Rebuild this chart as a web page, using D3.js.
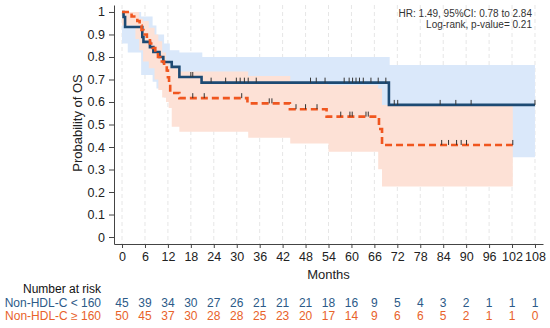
<!DOCTYPE html>
<html>
<head>
<meta charset="utf-8">
<script src="https://cdn.jsdelivr.net/npm/d3@7"></script>
<style>
	body { margin: 0; background: #fff; }
	svg text { font-family: "Liberation Sans", Arial, sans-serif; }
</style>
</head>
<body>
<script>
(function (d3) {
	'use strict';

	var width = 550,
	    height = 328;

	// month ticks + numbers at risk
	var months = d3.range(0, 109, 6);
	var riskLow = [45, 39, 34, 30, 27, 26, 21, 21, 21, 18, 16, 9, 5, 4, 3, 2, 1, 1, 1];
	var riskHigh = [50, 45, 37, 30, 28, 28, 25, 23, 20, 17, 14, 9, 6, 6, 5, 2, 1, 1, 0];
	var yTicks = d3.range(0, 11).map(function (i) { return i / 10; });

	// KM steps [month, survival]  (Non-HDL-C < 160)
	var kmLow = [[0, 1], [0.4, 0.978], [0.8, 0.933], [5.3, 0.889], [5.6, 0.867], [7.3, 0.844],
		[8.2, 0.822], [9.8, 0.8], [10.8, 0.778], [13, 0.756], [15, 0.711], [20.8, 0.686],
		[69.8, 0.587], [108, 0.587]];
	// Non-HDL-C >= 160
	var kmHigh = [[0, 1], [2.5, 0.98], [4, 0.96], [4.6, 0.94], [5.1, 0.92], [5.6, 0.9], [6.5, 0.88],
		[7.3, 0.86], [8, 0.84], [8.7, 0.82], [9.4, 0.8], [10, 0.78], [11, 0.76], [11.7, 0.74],
		[12, 0.71], [12.3, 0.68], [12.6, 0.64], [15, 0.617], [32.8, 0.594], [43.9, 0.568],
		[53.5, 0.535], [67.2, 0.48], [68, 0.409], [102.2, 0.409]];

	// 95% CI [month, lower, upper]
	var ciLow = [[0, 0.86, 1], [1.5, 0.82, 1], [5, 0.72, 0.98], [8, 0.69, 0.94], [9, 0.66, 0.9],
		[11, 0.62, 0.86], [12.5, 0.6, 0.83], [15, 0.56, 0.82], [21, 0.53, 0.8],
		[70, 0.354, 0.764], [108, 0.354, 0.764]];
	var ciHigh = [[0, 0.94, 1], [3.5, 0.88, 1], [4.5, 0.83, 0.97], [5.5, 0.78, 0.96], [7, 0.75, 0.93],
		[8.5, 0.7, 0.9], [9.5, 0.653, 0.87], [10.5, 0.62, 0.82], [11.5, 0.6, 0.78],
		[12.2, 0.573, 0.76], [13, 0.49, 0.75], [15, 0.468, 0.735], [33, 0.441, 0.716],
		[44, 0.416, 0.69], [54, 0.379, 0.676], [67, 0.301, 0.66], [68, 0.224, 0.587],
		[102.2, 0.224, 0.587]];

	// censored times
	var censLow = [18, 18.5, 23.3, 27.1, 29.9, 30.9, 32, 33, 35.1, 49.3, 50.8, 53.1, 58.1, 59.4,
		60.3, 61.2, 62.1, 63.1, 65.1, 67, 69, 71.2, 72.1, 83.2, 87.3, 91.3, 108];
	var censHigh = [18.5, 21.5, 31.3, 38.5, 39.2, 45.5, 48, 51, 57.2, 59.6, 60.2, 63.8, 64.4,
		83.6, 85.4, 87.5, 88.7, 90.1, 102.2];

	var blue = '#1d4a73',
	    orange = '#f0561f';

	var svg = d3.select('body').append('svg')
		.attr('width', width)
		.attr('height', height);

	var x = d3.scaleLinear().domain([-2.1, 110.1]).range([114, 543]);
	var y = d3.scaleLinear().domain([-0.031, 1.031]).range([244, 5]);

	// dashed vertical grid
	svg.append('g').selectAll('line').data(months).enter()
		.append('line')
			.attr('x1', function (d) { return x(d); })
			.attr('x2', function (d) { return x(d); })
			.attr('y1', 5)
			.attr('y2', 244)
			.attr('stroke', '#e6e6e6')
			.attr('stroke-dasharray', '4,3');

	var band = d3.area()
		.curve(d3.curveStepAfter)
		.x(function (d) { return x(d[0]); })
		.y0(function (d) { return y(d[1]); })
		.y1(function (d) { return y(d[2]); });

	svg.append('path').attr('d', band(ciLow)).attr('fill', '#dae8fa');
	svg.append('path').attr('d', band(ciHigh)).attr('fill', '#fde1d6');

	var step = d3.line()
		.curve(d3.curveStepAfter)
		.x(function (d) { return x(d[0]); })
		.y(function (d) { return y(d[1]); });

	// survival at t (step function)
	function survAt(km, t) {
		var s = km[0][1];
		km.forEach(function (p) { if (p[0] <= t) s = p[1]; });
		return s;
	}

	function drawCensor(km, times) {
		svg.append('g').selectAll('line').data(times).enter()
			.append('line')
				.attr('x1', function (d) { return x(d); })
				.attr('x2', function (d) { return x(d); })
				.attr('y1', function (d) { return y(survAt(km, d)); })
				.attr('y2', function (d) { return y(survAt(km, d)) - 5; })
				.attr('stroke', '#333')
				.attr('stroke-width', 1);
	}

	svg.append('path').attr('d', step(kmLow))
		.attr('fill', 'none').attr('stroke', blue).attr('stroke-width', 2.6);
	drawCensor(kmLow, censLow);

	svg.append('path').attr('d', step(kmHigh))
		.attr('fill', 'none').attr('stroke', orange).attr('stroke-width', 2.6)
		.attr('stroke-dasharray', '7,4');
	drawCensor(kmHigh, censHigh);

	// axes
	var yAxis = svg.append('g')
		.attr('transform', 'translate(114,0)')
		.call(d3.axisLeft(y).tickValues(yTicks).tickSize(5).tickSizeOuter(0).tickPadding(4)
			.tickFormat(d3.format('~g')));
	var xAxis = svg.append('g')
		.attr('transform', 'translate(0,244)')
		.call(d3.axisBottom(x).tickValues(months).tickSize(4).tickSizeOuter(0).tickPadding(4));

	[yAxis, xAxis].forEach(function (g) {
		g.selectAll('path, line').attr('stroke', '#444');
		g.selectAll('text').attr('font-size', '12.5px').attr('fill', '#222')
			.style('font-family', '"Liberation Sans", Arial, sans-serif');
	});

	svg.append('text')
		.attr('transform', 'translate(82,123) rotate(-90)')
		.attr('text-anchor', 'middle')
		.attr('font-size', '13px')
		.attr('fill', '#222')
		.text('Probability of OS');

	svg.append('text')
		.attr('x', x(54)).attr('y', 279)
		.attr('text-anchor', 'middle')
		.attr('font-size', '13px')
		.attr('fill', '#222')
		.text('Months');

	// HR annotation
	svg.append('text')
		.attr('x', 532).attr('y', 17)
		.attr('text-anchor', 'end').attr('font-size', '10px').attr('fill', '#333')
		.text('HR: 1.49, 95%CI: 0.78 to 2.84');
	svg.append('text')
		.attr('x', 532).attr('y', 28)
		.attr('text-anchor', 'end').attr('font-size', '10px').attr('fill', '#333')
		.text('Log-rank, p-value= 0.21');

	// number at risk table
	svg.append('text')
		.attr('x', 101).attr('y', 293)
		.attr('text-anchor', 'end').attr('font-size', '12px').attr('fill', '#111')
		.text('Number at risk');

	var rows = [
		{ label: 'Non-HDL-C < 160', vals: riskLow, color: '#2c5a88', yy: 307 },
		{ label: 'Non-HDL-C \u2265 160', vals: riskHigh, color: '#e8622a', yy: 320 }
	];

	rows.forEach(function (r) {
		svg.append('text')
			.attr('x', 101).attr('y', r.yy)
			.attr('text-anchor', 'end').attr('font-size', '12px').attr('fill', r.color)
			.text(r.label);
		svg.append('g').selectAll('text').data(r.vals).enter()
			.append('text')
				.attr('x', function (d, i) { return x(months[i]); })
				.attr('y', r.yy)
				.attr('text-anchor', 'middle')
				.attr('font-size', '12px')
				.attr('fill', r.color)
				.text(function (d) { return d; });
	});

})(d3);
</script>
</body>
</html>
